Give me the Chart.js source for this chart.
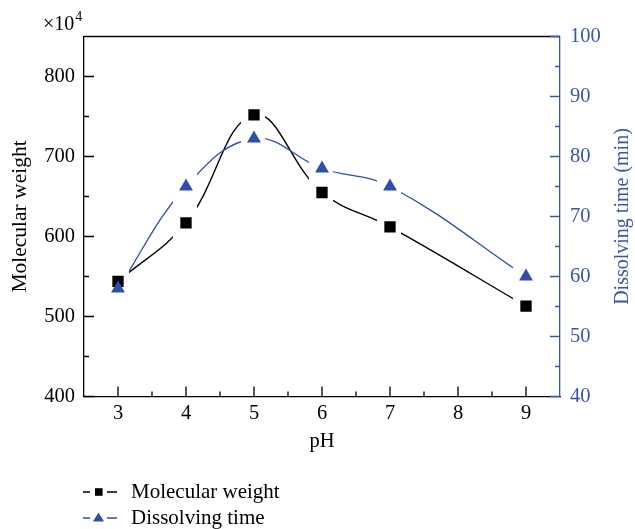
<!DOCTYPE html>
<html lang="en">
<head>
<meta charset="UTF-8">
<title>Molecular weight and dissolving time vs pH</title>
<script src="https://cdn.jsdelivr.net/npm/chart.js"></script>
<style>
  body { margin: 0; background: #fff; }
  #wrap { width: 635px; height: 529px; }
</style>
</head>
<body>
<div id="wrap"><canvas id="phChart" width="635" height="529"></canvas></div>
<script>
// pH series
const pH = [3, 4, 5, 6, 7, 9];
const molWeight = [544, 617, 752, 655, 612, 513];   // x10^4
const dissTime = [58, 75, 83, 78, 75, 60];          // min

const pHTicks = [3, 4, 5, 6, 7, 8, 9];
const mwTicks = [400, 500, 600, 700, 800];
const dtTicks = [40, 50, 60, 70, 80, 90, 100];

const BLUE = '#2f4fa6';
const AXIS_BLUE = '#3a56a8';
const SERIF = "'Liberation Serif', 'DejaVu Serif', serif";
const TICK_FONT = { family: SERIF, size: 20.5 };

const toPts = vals => pH.map((x, i) => ({ x, y: vals[i] }));

// inward ticks, top frame, x10^4 label and the rotated right title
const framePlugin = {
  id: 'frame',
  afterDraw(chart) {
    const { ctx, chartArea: a, scales } = chart;
    ctx.save();
    ctx.lineWidth = 1.3;

    const minors = vals => vals.slice(1).map((v, i) => (v + vals[i]) / 2);

    // bottom
    ctx.strokeStyle = '#000';
    ctx.beginPath();
    pHTicks.forEach(v => { const x = scales.x.getPixelForValue(v); ctx.moveTo(x, a.bottom); ctx.lineTo(x, a.bottom - 10); });
    minors(pHTicks).forEach(v => { const x = scales.x.getPixelForValue(v); ctx.moveTo(x, a.bottom); ctx.lineTo(x, a.bottom - 5); });
    // left
    mwTicks.forEach(v => { const y = scales.y.getPixelForValue(v); ctx.moveTo(a.left, y); ctx.lineTo(a.left + 10, y); });
    minors(mwTicks.concat([900])).forEach(v => { const y = scales.y.getPixelForValue(v); if (y > a.top) { ctx.moveTo(a.left, y); ctx.lineTo(a.left + 5, y); } });
    // top frame
    ctx.moveTo(a.left, a.top);
    ctx.lineTo(a.right, a.top);
    ctx.stroke();

    // right
    ctx.strokeStyle = AXIS_BLUE;
    ctx.beginPath();
    dtTicks.forEach(v => { const y = scales.y1.getPixelForValue(v); ctx.moveTo(a.right, y); ctx.lineTo(a.right - 10, y); });
    minors(dtTicks).forEach(v => { const y = scales.y1.getPixelForValue(v); ctx.moveTo(a.right, y); ctx.lineTo(a.right - 5, y); });
    ctx.stroke();

    // x10^4 multiplier
    ctx.fillStyle = '#000';
    ctx.textBaseline = 'alphabetic';
    ctx.textAlign = 'left';
    ctx.font = '20px ' + SERIF;
    ctx.fillText('\u00d710', 43, 30);
    const w = ctx.measureText('\u00d710').width;
    ctx.font = '14px ' + SERIF;
    ctx.fillText('4', 43 + w + 1, 21);

    // right axis title, reading bottom to top
    ctx.save();
    ctx.translate(623, (a.top + a.bottom) / 2);
    ctx.rotate(-Math.PI / 2);
    ctx.fillStyle = AXIS_BLUE;
    ctx.font = '20px ' + SERIF;
    ctx.textAlign = 'center';
    ctx.textBaseline = 'middle';
    ctx.fillText('Dissolving time (min)', 0, 0);
    ctx.restore();

    ctx.restore();
  }
};

// leave the line out near each of its own markers
const GAP_L = 13, GAP_R = 11;
const gapPlugin = {
  id: 'gaps',
  beforeDatasetDraw(chart, args) {
    const ds = chart.data.datasets[args.index];
    if (!ds.gapAround) return;
    const { ctx, chartArea: a } = chart;
    ctx.save();
    ctx.beginPath();
    let x0 = a.left;
    args.meta.data.forEach(pt => {
      ctx.rect(x0, a.top, pt.x - GAP_L - x0, a.bottom - a.top);
      x0 = pt.x + GAP_R;
    });
    ctx.rect(x0, a.top, a.right - x0, a.bottom - a.top);
    ctx.clip();
  },
  afterDatasetDraw(chart, args) {
    if (chart.data.datasets[args.index].gapAround) chart.ctx.restore();
  }
};

// legend: short dash, marker, dash, then label
const legendPlugin = {
  id: 'sideLegend',
  afterDraw(chart) {
    const { ctx } = chart;
    const rows = [
      { label: 'Molecular weight', color: '#000', shape: 'rect', y: 492 },
      { label: 'Dissolving time', color: BLUE, shape: 'tri', y: 518 }
    ];
    ctx.save();
    rows.forEach(r => {
      ctx.strokeStyle = r.color;
      ctx.fillStyle = r.color;
      ctx.lineWidth = 1.3;
      ctx.beginPath();
      ctx.moveTo(83, r.y); ctx.lineTo(90, r.y);
      ctx.moveTo(107, r.y); ctx.lineTo(117, r.y);
      ctx.stroke();
      ctx.beginPath();
      if (r.shape === 'rect') {
        ctx.rect(95, r.y - 3.8, 7.6, 7.6);
      } else {
        ctx.moveTo(98.5, r.y - 5.5);
        ctx.lineTo(104, r.y + 3.5);
        ctx.lineTo(93, r.y + 3.5);
        ctx.closePath();
      }
      ctx.fill();
      ctx.fillStyle = '#000';
      ctx.font = '21px ' + SERIF;
      ctx.textBaseline = 'middle';
      ctx.fillText(r.label, 131, r.y);
    });
    ctx.restore();
  }
};

new Chart(document.getElementById('phChart'), {
  type: 'line',
  data: {
    datasets: [
      {
        label: 'Dissolving time',
        data: toPts(dissTime),
        yAxisID: 'y1',
        showLine: false,
        pointStyle: 'triangle',
        pointRadius: 8,
        pointBackgroundColor: BLUE,
        pointBorderColor: BLUE,
        pointBorderWidth: 0
      },
      {
        label: 'Molecular weight',
        data: toPts(molWeight),
        yAxisID: 'y',
        showLine: false,
        pointStyle: 'rect',
        pointRadius: 8,
        pointBackgroundColor: '#000',
        pointBorderColor: '#000',
        pointBorderWidth: 0
      },
      {
        label: 'Dissolving time curve',
        data: toPts(dissTime),
        yAxisID: 'y1',
        gapAround: true,
        borderColor: BLUE,
        borderWidth: 1.3,
        tension: 0.4,
        pointRadius: 0
      },
      {
        label: 'Molecular weight curve',
        data: toPts(molWeight),
        yAxisID: 'y',
        gapAround: true,
        borderColor: '#000',
        borderWidth: 1.4,
        tension: 0.4,
        pointRadius: 0
      }
    ]
  },
  options: {
    responsive: false,
    animation: false,
    layout: { padding: { top: 36.5, left: 0, right: 0, bottom: 70 } },
    plugins: { legend: { display: false }, tooltip: { enabled: false } },
    scales: {
      x: {
        type: 'linear',
        min: 2.5,
        max: 9.5,
        afterBuildTicks: s => { s.ticks = pHTicks.map(v => ({ value: v })); },
        afterFit: s => { s.height = 62.5; },
        grid: { display: false, drawTicks: false },
        border: { display: true, color: '#000', width: 1.3 },
        ticks: { color: '#000', font: TICK_FONT, padding: 5, maxRotation: 0 },
        title: { display: true, text: 'pH', color: '#000', font: { family: SERIF, size: 20.5 }, padding: { top: 0, bottom: 5 } }
      },
      y: {
        position: 'left',
        min: 400,
        max: 850,
        afterBuildTicks: s => { s.ticks = mwTicks.map(v => ({ value: v })); },
        afterFit: s => { s.width = 84; },
        grid: { display: false, drawTicks: false },
        border: { display: true, color: '#000', width: 1.3 },
        ticks: { color: '#000', font: TICK_FONT, padding: 9 },
        title: { display: true, text: 'Molecular weight', color: '#000', font: { family: SERIF, size: 21.5 }, padding: { top: 7.5, bottom: 0 } }
      },
      y1: {
        position: 'right',
        min: 40,
        max: 100,
        afterBuildTicks: s => { s.ticks = dtTicks.map(v => ({ value: v })); },
        afterFit: s => { s.width = 75; },
        grid: { display: false, drawTicks: false },
        border: { display: true, color: AXIS_BLUE, width: 1.3 },
        ticks: { color: AXIS_BLUE, font: TICK_FONT, padding: 10 }
      }
    }
  },
  plugins: [gapPlugin, framePlugin, legendPlugin]
});
</script>
</body>
</html>
